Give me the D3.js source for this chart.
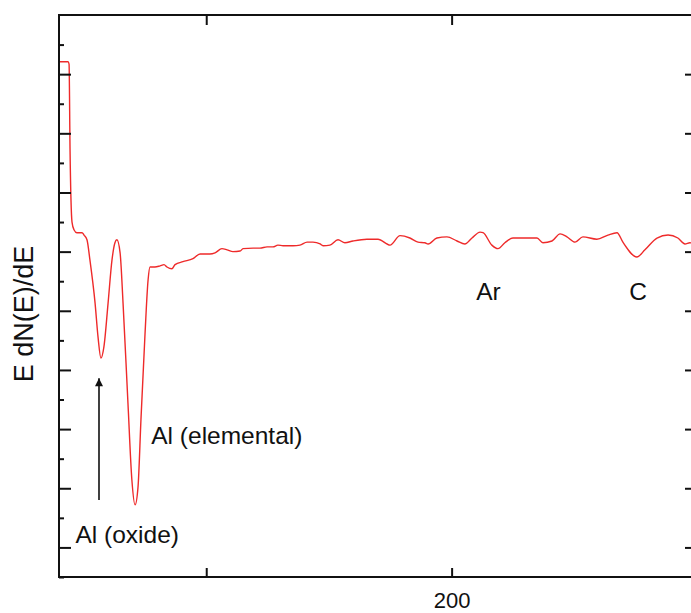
<!DOCTYPE html>
<html>

<head>
    <title>Auger spectrum E dN(E)/dE</title>
    <script src="https://d3js.org/d3.v7.min.js"></script>
    <style>
        body {
            margin: 0;
            background: white;
        }

        svg {
            display: block;
            overflow: hidden;
        }

        text {
            font-family: "Liberation Sans", Arial, sans-serif;
            fill: #111;
        }
    </style>
</head>

<body>
    <svg id="chart" width="691" height="613"></svg>

    <script>
        // kinetic energy (eV) and derivative signal (arb. units)
        var energy = [40.0, 43.7, 44.1, 44.5, 45.3, 46.1, 47.3, 49.4, 50.2, 51.4, 52.6, 54.7, 55.9, 57.1,
            58.3, 60.0, 61.6, 62.8, 63.6, 64.9, 66.1, 68.1, 69.7, 71.0, 72.2, 73.4, 75.0, 76.3, 77.1,
            79.1, 81.2, 82.8, 84.0, 86.0, 87.3, 90.5, 94.6, 97.5, 101.5, 103.6, 106.4, 108.5, 110.9,
            113.8, 115.0, 119.1, 121.9, 124.8, 127.2, 129.2, 131.3, 135.4, 138.2, 141.1, 143.5, 146.4,
            147.6, 150.4, 153.7, 156.5, 159.8, 165.5, 170.0, 174.9, 179.0, 183.0, 186.3, 189.1, 190.4,
            194.0, 198.1, 202.2, 205.4, 208.3, 211.6, 212.8, 216.4, 218.9, 221.7, 225.0, 229.1, 234.8,
            237.2, 240.9, 244.2, 247.0, 250.3, 253.5, 259.2, 263.7, 267.4, 269.8, 275.5, 278.8, 283.7,
            288.2, 292.2, 295.1, 297.1, 300.0];
        var signal = [9.21, 9.21, 9.17, 7.72, 6.50, 6.37, 6.32, 6.32, 6.28, 6.20, 5.86, 5.13, 4.56, 4.20,
            4.39, 5.13, 5.86, 6.15, 6.20, 5.98, 5.13, 3.44, 2.14, 1.72, 2.02, 3.16, 4.56, 5.52, 5.74,
            5.74, 5.76, 5.78, 5.74, 5.71, 5.78, 5.83, 5.88, 5.96, 5.96, 5.98, 6.05, 6.03, 6.00,
            6.01, 6.05, 6.06, 6.06, 6.08, 6.08, 6.11, 6.10, 6.10, 6.11, 6.16, 6.16, 6.13,
            6.10, 6.11, 6.20, 6.15, 6.18, 6.21, 6.21, 6.11, 6.27, 6.23, 6.16, 6.15, 6.13,
            6.23, 6.25, 6.18, 6.13, 6.23, 6.33, 6.32, 6.11, 6.05, 6.15, 6.23, 6.23, 6.23,
            6.15, 6.18, 6.30, 6.25, 6.16, 6.25, 6.21, 6.28, 6.32, 6.16, 5.91, 6.03, 6.23,
            6.28, 6.23, 6.13, 6.15, 6.12];

        var xTicks = [100, 200, 300];
        var xTickLabels = ["", "200", ""];
        var yMajorTicks = [1, 2, 3, 4, 5, 6, 7, 8, 9];
        var yMinorTicks = [0.5, 1.5, 2.5, 3.5, 4.5, 5.5, 6.5, 7.5, 8.5, 9.5];

        var yLabel = "E dN(E)/dE";
        var peakLabels = ["Al (elemental)", "Al (oxide)", "Ar", "C"];
        var peakLabelX = [77.6, 46.7, 215, 276];
        var peakLabelY = [2.75, 1.08, 5.18, 5.18];
        var peakLabelAnchor = ["start", "start", "middle", "middle"];
        var arrowX = 56.3, arrowFrom = 1.8, arrowTo = 3.86;

        var data = energy.map((e, i) => ({ e: e, s: signal[i] }));

        var margin = { top: 15, left: 59 },
            width = 638,
            height = 562;

        var svg = d3.select("#chart");

        svg.append("defs").append("marker")
            .attr("id", "head")
            .attr("viewBox", "0 0 10 10")
            .attr("refX", 10).attr("refY", 5)
            .attr("markerWidth", 15).attr("markerHeight", 8)
            .attr("markerUnits", "userSpaceOnUse")
            .attr("orient", "auto")
            .append("path")
            .attr("d", "M0,0 L10,5 L0,10 z")
            .attr("fill", "#111");

        var g = svg.append("g")
            .attr("transform", "translate(" + margin.left + "," + margin.top + ")");

        var x = d3.scaleLinear().domain([40, 300]).range([0, width]);
        var y = d3.scaleLinear().domain([0.5, 10]).range([height, 0]);

        // the curve
        g.append("path")
            .datum(data)
            .attr("fill", "none")
            .attr("stroke", "#ee2a2a")
            .attr("stroke-width", 1.4)
            .attr("stroke-linejoin", "round")
            .attr("d", d3.line().curve(d3.curveMonotoneX).x(d => x(d.e)).y(d => y(d.s)));

        // inward ticks on all four sides
        function styleAxis(sel) {
            sel.select(".domain").remove();
            sel.selectAll("line").attr("stroke", "#111").attr("stroke-width", 2);
        }

        g.append("g")
            .attr("transform", "translate(0," + height + ")")
            .call(d3.axisBottom(x).tickValues(xTicks).tickSize(-9).tickPadding(15)
                .tickFormat((d, i) => xTickLabels[i]))
            .call(styleAxis)
            .selectAll("text")
            .style("font-size", "22px")
            .style("font-family", "'Liberation Sans', Arial, sans-serif")
            .attr("fill", "#111");

        g.append("g")
            .call(d3.axisTop(x).tickValues(xTicks).tickSize(-10).tickFormat(""))
            .call(styleAxis);

        g.append("g")
            .call(d3.axisLeft(y).tickValues(yMajorTicks).tickSize(-12).tickFormat(""))
            .call(styleAxis);
        g.append("g")
            .call(d3.axisLeft(y).tickValues(yMinorTicks).tickSize(-5).tickFormat(""))
            .call(styleAxis);

        g.append("g")
            .attr("transform", "translate(" + width + ",0)")
            .call(d3.axisRight(y).tickValues(yMajorTicks).tickSize(-12).tickFormat(""))
            .call(styleAxis);
        g.append("g")
            .attr("transform", "translate(" + width + ",0)")
            .call(d3.axisRight(y).tickValues(yMinorTicks).tickSize(-5).tickFormat(""))
            .call(styleAxis);

        // frame
        g.append("rect")
            .attr("width", width)
            .attr("height", height)
            .attr("fill", "none")
            .attr("stroke", "#111")
            .attr("stroke-width", 2);

        // y label
        svg.append("text")
            .attr("transform", "translate(33," + (margin.top + height / 2 + 18) + ") rotate(-90)")
            .attr("text-anchor", "middle")
            .style("font-size", "27px")
            .text(yLabel);

        // peak labels
        g.selectAll(".peak")
            .data(peakLabels)
            .enter()
            .append("text")
            .attr("class", "peak")
            .attr("x", (d, i) => x(peakLabelX[i]))
            .attr("y", (d, i) => y(peakLabelY[i]))
            .attr("text-anchor", (d, i) => peakLabelAnchor[i])
            .style("font-size", "24.5px")
            .text(d => d);

        // arrow pointing at the oxide peak
        g.append("line")
            .attr("x1", x(arrowX)).attr("x2", x(arrowX))
            .attr("y1", y(arrowFrom)).attr("y2", y(arrowTo))
            .attr("stroke", "#111")
            .attr("stroke-width", 1.6)
            .attr("marker-end", "url(#head)");
    </script>
</body>

</html>
